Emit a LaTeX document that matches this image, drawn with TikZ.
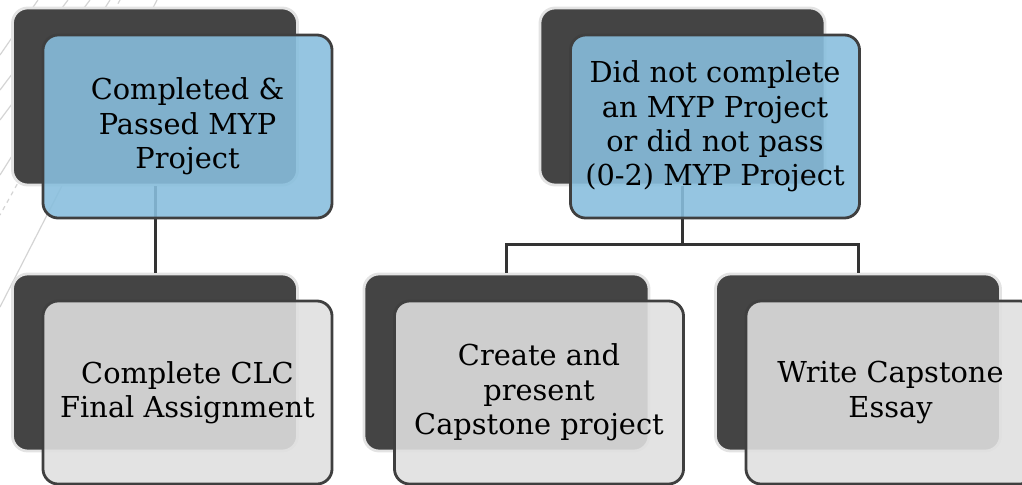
\documentclass[tikz,border=0pt]{standalone}
\usepackage{fontspec}
\setmainfont{DejaVu Serif}
\usetikzlibrary{positioning}

\definecolor{backgray}{HTML}{444444}
\definecolor{halogray}{HTML}{E3E3E3}
\definecolor{edgegray}{HTML}{3F3F3F}
\definecolor{linkgray}{HTML}{333333}
\definecolor{paleblue}{RGB}{136,190,221}
\definecolor{palegray}{RGB}{224,224,224}
\definecolor{decogray}{HTML}{D4D4D4}

\begin{document}
\begin{tikzpicture}[x=0.025cm,y=-0.025cm,on grid,
    backbox/.style={fill=backgray,draw=halogray,line width=0.07cm,rounded corners=0.38cm,
      minimum width=7.125cm,minimum height=4.425cm,inner sep=0pt},
    frontbox/.style={draw=edgegray,line width=0.07cm,rounded corners=0.38cm,
      fill opacity=0.89,text opacity=1,minimum width=7.225cm,minimum height=4.575cm,
      inner sep=0pt,align=center,font=\fontsize{20.5}{24.4}\selectfont},
    bluebox/.style={frontbox,fill=paleblue},
    greybox/.style={frontbox,fill=palegray},
    link/.style={draw=linkgray,line width=0.075cm},
    deco/.style={draw=decogray,line width=0.03cm}]
  \clip (0,0) rectangle (1022,485);
  % background strokes
  \draw[deco] (38,0) -- (0,55);
  \draw[deco] (68,0) -- (0,90);
  \draw[deco] (90,0) -- (0,120);
  \draw[deco] (110,0) -- (0,175);
  \draw[deco,dashed] (120,0) -- (0,215);
  \draw[deco] (157,0) -- (0,307);

  \path
  node[backbox] (b1) at (155,96.5)   {}
  node[backbox] (b2) at (682.5,96.5) {}
  node[backbox] (b4) at (155,362.5)  {}
  node[backbox] (b3) at (506.5,362.5) {}
  node[backbox] (b5) at (858,362.5)  {}
  ;
  \coordinate (fork) at (682.5,245);
  \path[link]
  (b1) edge (b4)
  (b2) edge (fork)
  ;
  \draw[link] (b3.north) |- (fork) -| (b5.north);

  \path
  node[bluebox,below right=0.75cm and 0.8125cm of b1] (f1)
  {Completed \&\\Passed MYP\\Project}
  node[bluebox,below right=0.75cm and 0.8125cm of b2] (f2)
  {Did not complete\\an MYP Project\\or did not pass\\(0-2) MYP Project}
  node[greybox,below right=0.75cm and 0.8125cm of b4] (f4)
  {Complete CLC\\Final Assignment}
  node[greybox,below right=0.75cm and 0.8125cm of b3] (f3)
  {Create and\\present\\Capstone project}
  node[greybox,below right=0.75cm and 0.8125cm of b5] (f5)
  {Write Capstone\\Essay}
  ;
\end{tikzpicture}
\end{document}
